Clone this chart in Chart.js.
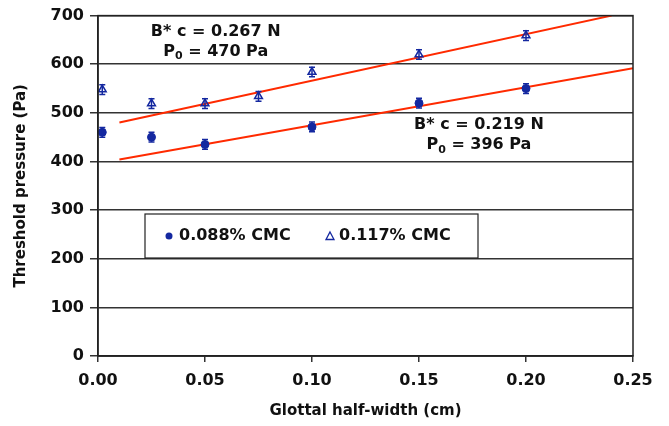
<!DOCTYPE html>
<html><head><meta charset="utf-8">
<script src="https://cdn.jsdelivr.net/npm/chart.js@4.4.1/dist/chart.umd.min.js"></script>
<style>html,body{margin:0;padding:0;background:#fff}#wrap{width:669px;height:426px}</style>
</head><body><div id="wrap"><canvas id="c" width="669" height="426"></canvas></div>
<script>
// Data
const xCMC088 = [0.002, 0.025, 0.05, 0.10, 0.15, 0.20];
const yCMC088 = [460, 450, 435, 471, 520, 550];
const errCMC088 = [10, 10, 10, 10, 10, 10];
const xCMC117 = [0.002, 0.025, 0.05, 0.075, 0.10, 0.15, 0.20];
const yCMC117 = [548, 519, 519, 534, 584, 620, 659];
const errCMC117 = [10, 10, 10, 10, 10, 10, 10];
const fitX088 = [0.01, 0.25];
const fitY088 = [404, 592];
const fitX117 = [0.01, 0.24];
const fitY117 = [480, 700];
const seriesNames = ['0.088% CMC', '0.117% CMC'];
const annot117 = {x: 0.055, y: 647, lines: ['B* c = 0.267 N', 'P0 = 470 Pa']};
const annot088 = {x: 0.178, y: 455, lines: ['B* c = 0.219 N', 'P0 = 396 Pa']};

const FONT = '"DejaVu Sans", Verdana, sans-serif';
const BLUE = '#1428a0';
const RED = '#ff2a00';
const pts = (xs, ys) => xs.map((x, i) => ({x, y: ys[i]}));

const errPlugin = {
  id: 'err',
  afterDatasetsDraw(chart) {
    const {ctx, scales: {x, y}} = chart;
    const sets = [[xCMC088, yCMC088, errCMC088], [xCMC117, yCMC117, errCMC117]];
    ctx.save();
    ctx.strokeStyle = BLUE; ctx.lineWidth = 1.5;
    sets.forEach(([xs, ys, es]) => {
      xs.forEach((xv, i) => {
        const px = x.getPixelForValue(xv);
        const y1 = y.getPixelForValue(ys[i] + es[i]);
        const y2 = y.getPixelForValue(ys[i] - es[i]);
        ctx.beginPath();
        ctx.moveTo(px, y1); ctx.lineTo(px, y2);
        ctx.moveTo(px - 3, y1); ctx.lineTo(px + 3, y1);
        ctx.moveTo(px - 3, y2); ctx.lineTo(px + 3, y2);
        ctx.stroke();
      });
    });
    ctx.restore();
  }
};

function drawP0(ctx, text, cx, cy) {
  ctx.font = 'bold 16px ' + FONT;
  const wP = ctx.measureText('P').width;
  const rest = text.slice(2);
  const wR = ctx.measureText(rest).width;
  ctx.font = 'bold 11px ' + FONT;
  const w0 = ctx.measureText('0').width;
  const total = wP + w0 + wR;
  let sx = cx - total / 2;
  ctx.textAlign = 'left';
  ctx.font = 'bold 16px ' + FONT;
  ctx.fillText('P', sx, cy);
  ctx.font = 'bold 11px ' + FONT;
  ctx.fillText('0', sx + wP, cy + 5);
  ctx.font = 'bold 16px ' + FONT;
  ctx.fillText(rest, sx + wP + w0, cy);
}

const decoPlugin = {
  id: 'deco',
  afterDraw(chart) {
    const {ctx, chartArea: a, scales: {x, y}} = chart;
    ctx.save();
    ctx.strokeStyle = '#222'; ctx.lineWidth = 1.5;
    ctx.strokeRect(a.left, a.top, a.right - a.left, a.bottom - a.top);
    ctx.fillStyle = '#111';
    ctx.textBaseline = 'middle';
    [annot117, annot088].forEach(an => {
      const cx = x.getPixelForValue(an.x);
      const cy = y.getPixelForValue(an.y);
      ctx.font = 'bold 16px ' + FONT;
      ctx.textAlign = 'center';
      ctx.fillText(an.lines[0], cx, cy - 10);
      drawP0(ctx, an.lines[1], cx, cy + 10);
    });
    const lx = 145, ly = 214, lw = 333, lh = 44;
    ctx.fillStyle = '#fff';
    ctx.fillRect(lx, ly, lw, lh);
    ctx.strokeStyle = '#222'; ctx.lineWidth = 1.2;
    ctx.strokeRect(lx, ly, lw, lh);
    const my = ly + lh / 2;
    ctx.fillStyle = BLUE;
    ctx.beginPath(); ctx.arc(169, my, 3.5, 0, Math.PI * 2); ctx.fill();
    ctx.fillStyle = '#111';
    ctx.font = 'bold 16px ' + FONT;
    ctx.textAlign = 'left';
    ctx.fillText(seriesNames[0], 179, my);
    ctx.strokeStyle = BLUE; ctx.lineWidth = 1.3;
    ctx.beginPath();
    ctx.moveTo(330, my - 4); ctx.lineTo(334, my + 3.5); ctx.lineTo(326, my + 3.5); ctx.closePath();
    ctx.stroke();
    ctx.fillText(seriesNames[1], 339, my);
    ctx.restore();
  }
};

new Chart(document.getElementById('c'), {
  type: 'scatter',
  data: {
    datasets: [
      {label: 'fit088', data: pts(fitX088, fitY088), showLine: true, borderColor: RED, borderWidth: 2, pointRadius: 0, order: 2},
      {label: 'fit117', data: pts(fitX117, fitY117), showLine: true, borderColor: RED, borderWidth: 2, pointRadius: 0, order: 2},
      {label: seriesNames[0], data: pts(xCMC088, yCMC088), pointStyle: 'circle', pointRadius: 4, backgroundColor: BLUE, borderColor: BLUE, order: 1},
      {label: seriesNames[1], data: pts(xCMC117, yCMC117), pointStyle: 'triangle', pointRadius: 4.5, backgroundColor: 'rgba(255,255,255,0)', borderColor: BLUE, borderWidth: 1.5, order: 1}
    ]
  },
  options: {
    responsive: false,
    animation: false,
    devicePixelRatio: 1,
    layout: {padding: {left: 8, right: 36, top: 5, bottom: 2}},
    plugins: {legend: {display: false}, tooltip: {enabled: false}},
    scales: {
      x: {
        type: 'linear', min: 0, max: 0.25,
        afterFit(s) { s.height = 68; },
        ticks: {stepSize: 0.05, color: '#111', font: {family: FONT, size: 16, weight: 'bold'}, padding: 9,
          callback: v => v.toFixed(2)},
        grid: {drawOnChartArea: false, drawTicks: true, tickLength: 6, color: '#333', lineWidth: 1.5},
        border: {display: true, color: '#222', width: 1.5},
        title: {display: true, text: 'Glottal half-width (cm)', color: '#111', font: {family: FONT, size: 15, weight: 'bold'}, padding: {top: 5}}
      },
      y: {
        type: 'linear', min: 0, max: 700,
        afterFit(s) { s.width = 90; },
        ticks: {stepSize: 100, color: '#111', font: {family: FONT, size: 16, weight: 'bold'}, padding: 6},
        grid: {drawOnChartArea: true, drawTicks: true, tickLength: 8, color: '#333', lineWidth: 1.5},
        border: {display: true, color: '#222', width: 1.5},
        title: {display: true, text: 'Threshold pressure (Pa)', color: '#111', font: {family: FONT, size: 15, weight: 'bold'}, padding: {bottom: 4}}
      }
    }
  },
  plugins: [errPlugin, decoPlugin]
});
</script></body></html>
